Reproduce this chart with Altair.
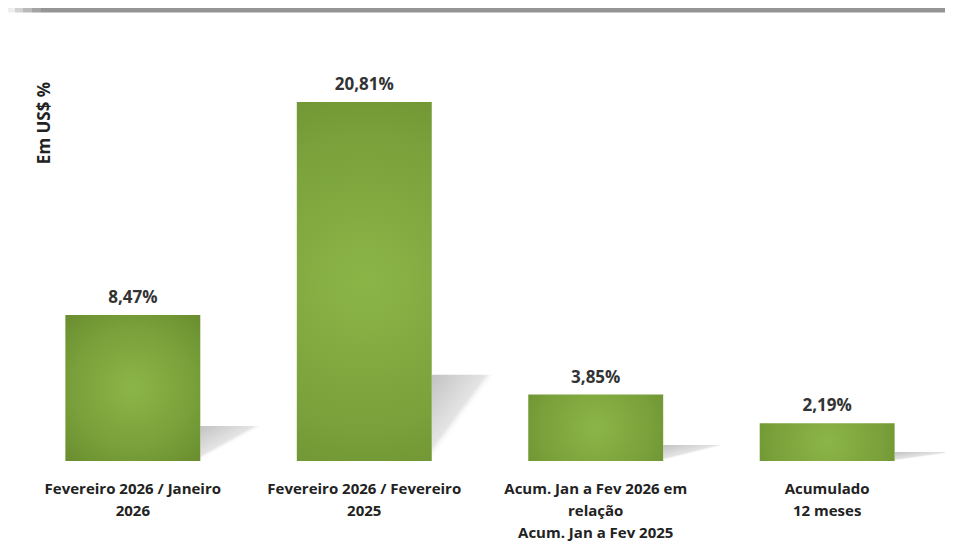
import altair as alt
import pandas as pd

categories = [
    "Fevereiro 2026 / Janeiro\n2026",
    "Fevereiro 2026 / Fevereiro\n2025",
    "Acum. Jan a Fev 2026 em\nrelação\nAcum. Jan a Fev 2025",
    "Acumulado\n12 meses",
]
values = [8.47, 20.81, 3.85, 2.19]
value_labels = ["8,47%", "20,81%", "3,85%", "2,19%"]
y_title = "Em US$ %"

df = pd.DataFrame({"cat": categories, "val": values, "lab": value_labels})

FONT = "Open Sans"

grad = alt.Gradient(
    gradient="radial",
    stops=[
        alt.GradientStop(color="#8cb548", offset=0),
        alt.GradientStop(color="#79a03a", offset=0.55),
        alt.GradientStop(color="#66882c", offset=1),
    ],
    x1=0.5, y1=0.5, r1=0.0, x2=0.5, y2=0.5, r2=0.75,
)

shadow_grad = alt.Gradient(
    gradient="linear",
    stops=[
        alt.GradientStop(color="#c2c2c2", offset=0),
        alt.GradientStop(color="#e4e4e4", offset=0.42),
        alt.GradientStop(color="rgba(255,255,255,0)", offset=0.5),
    ],
    x1=0, y1=0, x2=1, y2=1,
)

x_enc = alt.X(
    "cat:N",
    sort=categories,
    scale=alt.Scale(paddingInner=0.417, paddingOuter=0.196),
    axis=alt.Axis(
        title=None, domain=False, ticks=False, labelAngle=0,
        labelExpr="split(datum.label, '\\n')",
        labelFont=FONT, labelFontWeight="bold", labelFontSize=15,
        labelColor="#222222", labelPadding=20, labelLineHeight=22,
        labelLimit=300,
    ),
)
y_scale = alt.Scale(domain=[0, 24])

shadow = alt.Chart(df).transform_calculate(sh="datum.val * 0.24").mark_bar(
    color=shadow_grad, width=64, xOffset=67.5 + 32
).encode(x=x_enc, y=alt.Y("sh:Q", scale=y_scale, axis=None))

bars = alt.Chart(df).mark_bar(color=grad).encode(
    x=x_enc, y=alt.Y("val:Q", scale=y_scale, axis=None)
)

text = alt.Chart(df).mark_text(
    baseline="bottom", dy=-8, font=FONT, fontWeight="bold", fontSize=17, color="#333333"
).encode(x=alt.X("cat:N", sort=categories), y="val:Q", text="lab:N")

title_df = pd.DataFrame({"t": [y_title]})
ytitle = alt.Chart(title_df).mark_text(
    angle=270, font=FONT, fontWeight="bold", fontSize=17, color="#222222"
).encode(x=alt.value(25), y=alt.value(76), text="t:N")

banner = alt.Chart(title_df).mark_rule(color="#959595", strokeWidth=5).encode(
    x=alt.value(21), x2=alt.value(930), y=alt.value(-37)
)
sq1 = alt.Chart(title_df).mark_rule(color="#eeeeee", strokeWidth=5).encode(
    x=alt.value(-12), x2=alt.value(-5), y=alt.value(-37)
)
sq2 = alt.Chart(title_df).mark_rule(color="#d2d2d2", strokeWidth=5).encode(
    x=alt.value(-5), x2=alt.value(3), y=alt.value(-37)
)
sq3 = alt.Chart(title_df).mark_rule(color="#b8b8b8", strokeWidth=5).encode(
    x=alt.value(3), x2=alt.value(12), y=alt.value(-37)
)
sq4 = alt.Chart(title_df).mark_rule(color="#a3a3a3", strokeWidth=5).encode(
    x=alt.value(12), x2=alt.value(21), y=alt.value(-37)
)

chart = (
    alt.layer(banner, sq1, sq2, sq3, sq4, shadow, bars, text, ytitle)
    .properties(
        width=920, height=414,
        padding={"left": 12, "top": 39, "right": 5, "bottom": 80},
        autosize=alt.AutoSizeParams(type="none"),
        view=alt.ViewBackground(stroke="transparent", strokeWidth=0),
    )
    .configure_view(stroke="transparent", strokeWidth=0)
    .configure(background="white")
)

chart.save("out.html", embed_options={"renderer": "svg", "actions": False})
